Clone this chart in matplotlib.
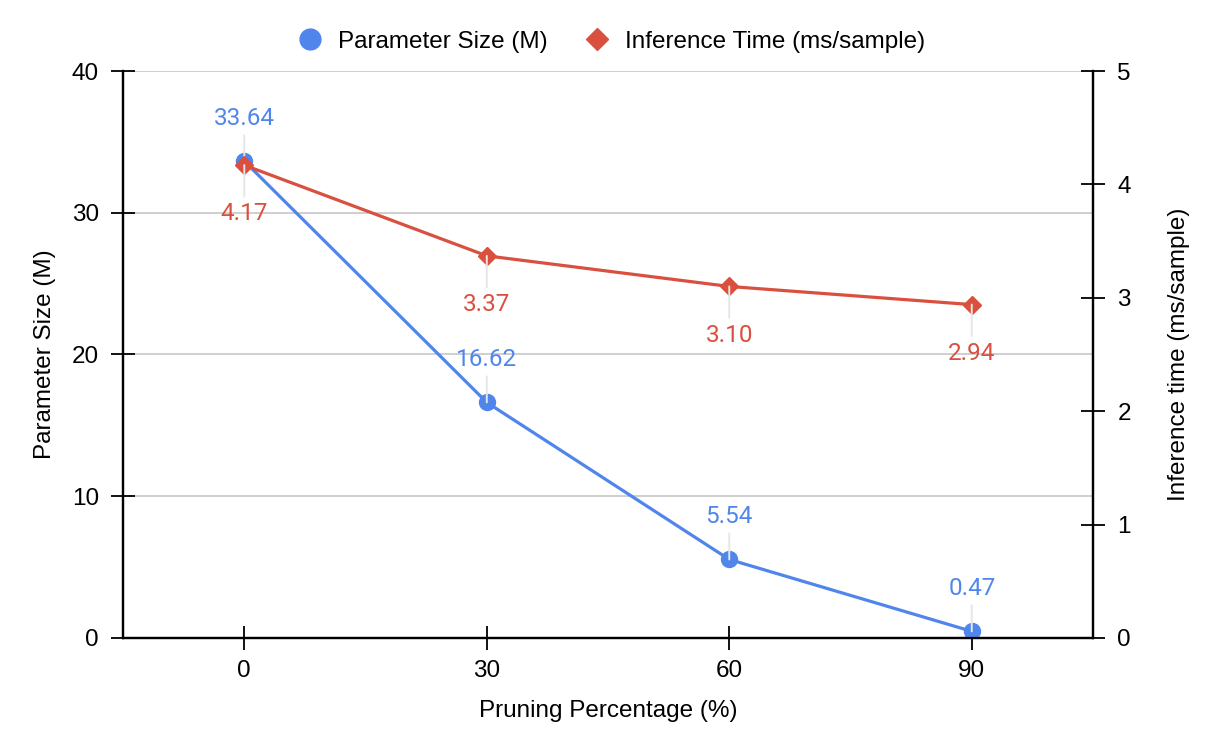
import matplotlib.pyplot as plt
from matplotlib.lines import Line2D

plt.rcParams['font.family'] = ['Liberation Sans', 'DejaVu Sans']

# data
pruning = [0, 30, 60, 90]
param_size = [33.64, 16.62, 5.54, 0.47]
infer_time = [4.17, 3.37, 3.10, 2.94]

blue = '#5086EC'
red = '#D9503F'

fig = plt.figure(figsize=(12.1, 7.46), dpi=100)
ax = fig.add_axes([0.1017, 0.1448, 0.8016, 0.76])
ax2 = ax.twinx()

# left axis: parameter size
ax.plot(pruning, param_size, color=blue, lw=2.3, marker='o', ms=11.5, zorder=3)
ax.set_xlim(-15, 105)
ax.set_ylim(0, 40)
ax.set_yticks([0, 10, 20, 30, 40])
ax.set_xticks(pruning)
ax.grid(axis='y', color='#cccccc', lw=1.3, zorder=0)
ax.set_axisbelow(True)
ax.set_ylabel('Parameter Size (M)', fontsize=17.5, labelpad=11)
ax.set_xlabel('Pruning Percentage (%)', fontsize=17.5, labelpad=13)

# right axis: inference time
ax2.plot(pruning, infer_time, color=red, lw=2.3, marker='D', ms=9, zorder=3)
ax2.set_ylim(0, 5)
ax2.set_yticks([0, 1, 2, 3, 4, 5])
ax2.set_ylabel('Inference time (ms/sample)', fontsize=17.5, labelpad=27)

for a in (ax, ax2):
    a.spines['top'].set_visible(False)
    for s in ('left', 'right', 'bottom'):
        a.spines[s].set_linewidth(1.6)
    a.tick_params(direction='inout', length=17, width=1.3, labelsize=17.5, pad=9)
ax.tick_params(axis='x', pad=7)

# data labels with leader lines
for x, v in zip(pruning, param_size):
    ax.annotate(f'{v:.2f}', xy=(x, v), xytext=(0, 31), textcoords='offset points',
                ha='center', va='center', color=blue, fontsize=17.5, family='Roboto',
                arrowprops=dict(arrowstyle='-', color='#e6e6e6', lw=1.4,
                                shrinkA=2, shrinkB=0))
for x, v in zip(pruning, infer_time):
    ax2.annotate(f'{v:.2f}', xy=(x, v), xytext=(0, -35), textcoords='offset points',
                 ha='center', va='center', color=red, fontsize=17.5, family='Roboto',
                 arrowprops=dict(arrowstyle='-', color='#e6e6e6', lw=1.4,
                                 shrinkA=2, shrinkB=0))

handles = [
    Line2D([], [], color=blue, marker='o', ls='none', ms=15),
    Line2D([], [], color=red, marker='D', ls='none', ms=11.5),
]
fig.legend(handles, ['Parameter Size (M)', 'Inference Time (ms/sample)'],
           loc='center', bbox_to_anchor=(0.503, 0.944), ncol=2, frameon=False,
           fontsize=17.5, handletextpad=0.4, columnspacing=1.3, handlelength=1.5)

fig.savefig('out.png', dpi=100)
